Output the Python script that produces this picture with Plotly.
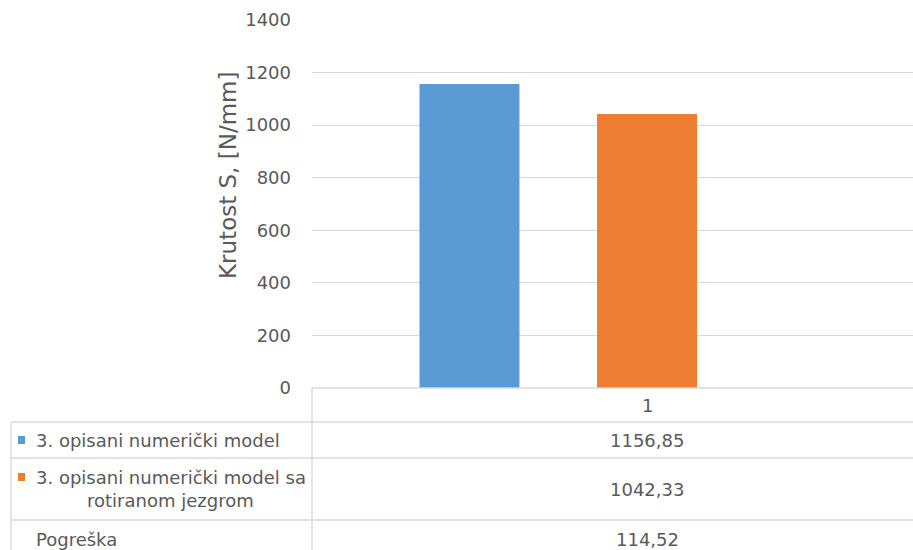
import plotly.graph_objects as go

# ---- data ----
categories = ["1"]
series_names = [
    "3. opisani numerički model",
    "3. opisani numerički model sa<br>rotiranom jezgrom",
    "Pogreška",
]
model_values = [1156.85]
rotated_values = [1042.33]
error_values = [114.52]
series_values = [model_values, rotated_values, error_values]
series_colors = ["#5B9BD5", "#ED7D31", "rgba(0,0,0,0)"]
show_key = [True, True, False]
y_ticks = [0, 200, 400, 600, 800, 1000, 1200, 1400]
y_title = "Krutost S, [N/mm]"

W, H = 913, 550
OFF = 0  # body margin removed via post_script
FONT = "DejaVu Sans, sans-serif"
TXT = "#595959"
GRID = "#D9D9D9"

def px(x):
    return (x - OFF) / W

def py(y):
    return 1 - (y - OFF) / H

fig = go.Figure()
for name, vals, col in zip(series_names, series_values, series_colors):
    fig.add_trace(go.Bar(x=categories, y=vals, name=name, marker_color=col,
                         marker_line_width=0, showlegend=False, hoverinfo="skip"))

plot_left, plot_right, plot_top, plot_bottom = 312, 913, 20, 388
fig.update_layout(
    width=W, height=H, autosize=False,
    margin=dict(l=0, r=0, t=0, b=0, pad=0, autoexpand=False),
    paper_bgcolor="white", plot_bgcolor="white",
    barmode="group", bargap=0.205, bargroupgap=0.437,
    font=dict(family=FONT, color=TXT, size=18),
    xaxis=dict(domain=[px(plot_left), px(plot_right)], type="category", range=[-0.5, 0.397],
               showticklabels=False, showgrid=False, zeroline=False, showline=False,
               automargin=False),
    yaxis=dict(domain=[py(plot_bottom), py(plot_top)], range=[0, 1400],
               tickvals=y_ticks, showgrid=True, gridcolor=GRID, gridwidth=1.3,
               zeroline=False, showline=False, ticks="", ticklabelstandoff=20,
               automargin=False, tickfont=dict(size=18, color=TXT)),
)

# axis title
fig.add_annotation(x=px(228), y=py(176), xref="paper", yref="paper", text=y_title,
                   textangle=-90, showarrow=False, font=dict(size=23, color=TXT),
                   xanchor="center", yanchor="middle")

# data table lines
line = dict(color=GRID, width=1.3)
row_lines = [388, 422, 458, 520]
for i, yy in enumerate(row_lines):
    x0 = plot_left if i == 0 else 11
    fig.add_shape(type="line", xref="paper", yref="paper", x0=px(x0), x1=1,
                  y0=py(yy), y1=py(yy), line=line)
fig.add_shape(type="line", xref="paper", yref="paper", x0=px(plot_left), x1=px(plot_left),
              y0=py(388), y1=0, line=line)
fig.add_shape(type="line", xref="paper", yref="paper", x0=px(11), x1=px(11),
              y0=py(422), y1=0, line=line)

# category header
col_center = 647
fig.add_annotation(x=px(col_center), y=py(405), xref="paper", yref="paper",
                   text=categories[0], showarrow=False, xanchor="center", yanchor="middle")

# rows
row_centers = [440, 489, 539]
for name, vals, col, key, yc in zip(series_names, series_values, series_colors, show_key, row_centers):
    valtxt = f"{vals[0]:.2f}".replace(".", ",")
    fig.add_annotation(x=px(col_center), y=py(yc), xref="paper", yref="paper",
                       text=valtxt, showarrow=False, xanchor="center", yanchor="middle")
    if key:
        first_y = yc if "<br>" not in name else 477
        fig.add_shape(type="rect", xref="paper", yref="paper", x0=px(18), x1=px(25),
                      y0=py(first_y + 4), y1=py(first_y - 4), fillcolor=col, line_width=0)
        if "<br>" in name:
            l1, l2 = name.split("<br>")
            fig.add_annotation(x=px(34), y=py(477), xref="paper", yref="paper", text=l1,
                               showarrow=False, xanchor="left", yanchor="middle")
            fig.add_annotation(x=px(170), y=py(500), xref="paper", yref="paper", text=l2,
                               showarrow=False, xanchor="center", yanchor="middle")
        else:
            fig.add_annotation(x=px(34), y=py(yc), xref="paper", yref="paper", text=name,
                               showarrow=False, xanchor="left", yanchor="middle")
    else:
        fig.add_annotation(x=px(34), y=py(yc), xref="paper", yref="paper", text=name,
                           showarrow=False, xanchor="left", yanchor="middle")

fig.write_html("out.html", config={"displayModeBar": False},
               post_script="document.body.style.margin='0px';")
